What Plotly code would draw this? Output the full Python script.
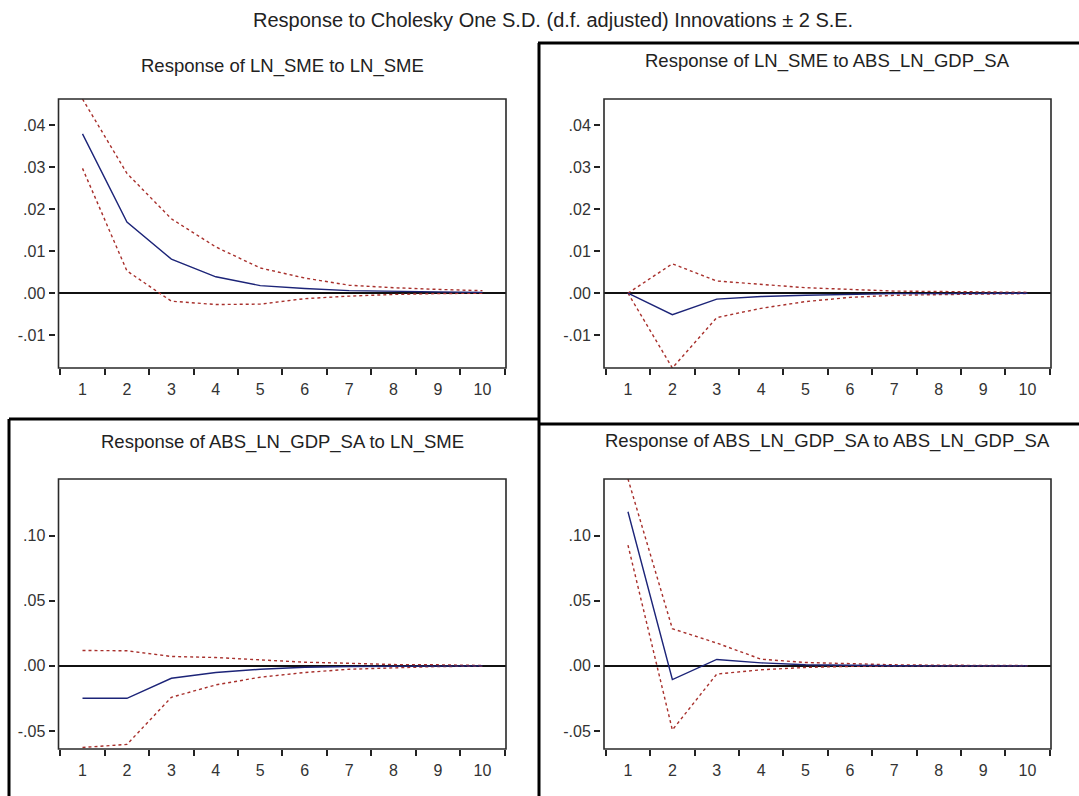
import plotly.graph_objects as go

W, H = 1079, 796

periods = list(range(1, 11))

# Panel 1: Response of LN_SME to LN_SME
p1_resp  = [0.0379, 0.0169, 0.0081, 0.0039, 0.0018, 0.0011, 0.0006, 0.0004, 0.0003, 0.0002]
p1_upper = [0.0462, 0.0285, 0.0177, 0.0110, 0.0060, 0.0036, 0.0019, 0.0013, 0.0009, 0.0006]
p1_lower = [0.0297, 0.0053, -0.0019, -0.0027, -0.0026, -0.0013, -0.0007, -0.0003, -0.0001, 0.0000]

# Panel 2: Response of LN_SME to ABS_LN_GDP_SA
p2_resp  = [0.0, -0.0051, -0.0014, -0.0008, -0.0005, -0.0003, -0.0001, -0.0001, 0.0, 0.0]
p2_upper = [0.0, 0.0070, 0.0029, 0.0021, 0.0013, 0.0009, 0.0005, 0.0004, 0.0003, 0.0002]
p2_lower = [0.0, -0.0178, -0.0058, -0.0036, -0.0020, -0.0010, -0.0005, -0.0003, -0.0002, -0.0001]

# Panel 3: Response of ABS_LN_GDP_SA to LN_SME
p3_resp  = [-0.0249, -0.0249, -0.0095, -0.0051, -0.0026, -0.0011, -0.0005, -0.0003, -0.0001, 0.0]
p3_upper = [0.0118, 0.0116, 0.0072, 0.0064, 0.0046, 0.0028, 0.0020, 0.0010, 0.0008, 0.0003]
p3_lower = [-0.0626, -0.0603, -0.0241, -0.0146, -0.0087, -0.0051, -0.0026, -0.0013, -0.0005, -0.0003]

# Panel 4: Response of ABS_LN_GDP_SA to ABS_LN_GDP_SA
p4_resp  = [0.1183, -0.0105, 0.0049, 0.0023, 0.0008, 0.0003, 0.0001, 0.0, 0.0, 0.0]
p4_upper = [0.1435, 0.0285, 0.0175, 0.0051, 0.0026, 0.0015, 0.0008, 0.0005, 0.0003, 0.0002]
p4_lower = [0.0927, -0.0492, -0.0063, -0.0030, -0.0012, -0.0004, -0.0002, -0.0001, 0.0, 0.0]

titles = [
    "Response of LN_SME to LN_SME",
    "Response of LN_SME to ABS_LN_GDP_SA",
    "Response of ABS_LN_GDP_SA to LN_SME",
    "Response of ABS_LN_GDP_SA to ABS_LN_GDP_SA",
]
main_title = "Response to Cholesky One S.D. (d.f. adjusted) Innovations \u00b1 2 S.E."

top_ticks = [-0.01, 0.0, 0.01, 0.02, 0.03, 0.04]
top_ticktext = ["-.01", ".00", ".01", ".02", ".03", ".04"]
bot_ticks = [-0.05, 0.0, 0.05, 0.10]
bot_ticktext = ["-.05", ".00", ".05", ".10"]

top_range = [-0.0178, 0.0462]
bot_range = [-0.0638, 0.1434]

panels = [
    (p1_resp, p1_upper, p1_lower, top_ticks, top_ticktext, top_range),
    (p2_resp, p2_upper, p2_lower, top_ticks, top_ticktext, top_range),
    (p3_resp, p3_upper, p3_lower, bot_ticks, bot_ticktext, bot_range),
    (p4_resp, p4_upper, p4_lower, bot_ticks, bot_ticktext, bot_range),
]

# pixel boxes (left, right, top, bottom)
boxes = [
    (58.5, 506, 99, 368),
    (604, 1051, 99, 368),
    (58.5, 506, 479, 749),
    (604, 1051, 479, 749),
]
title_y = [66, 61, 442, 441]

FONT = "Liberation Sans, Arial, sans-serif"
BLUE = "#1c2478"
RED = "#a8302c"

fig = go.Figure()
layout = dict(
    width=W, height=H,
    margin=dict(l=0, r=0, t=0, b=0),
    paper_bgcolor="white", plot_bgcolor="white",
    showlegend=False,
    font=dict(family=FONT, color="#222222"),
)
shapes = []
annotations = []

for i, (resp, up, lo, tv, tt, yr) in enumerate(panels):
    n = i + 1
    xa = "x" if n == 1 else f"x{n}"
    ya = "y" if n == 1 else f"y{n}"
    l, r, t, b = boxes[i]
    xdom = [l / W, r / W]
    ydom = [1 - b / H, 1 - t / H]
    for series, color, dash in ((up, RED, "3px,3px"), (lo, RED, "3px,3px"), (resp, BLUE, "solid")):
        fig.add_trace(go.Scatter(
            x=periods, y=series, xaxis=xa, yaxis=ya, mode="lines",
            line=dict(color=color, width=1.4, dash=dash),
            hoverinfo="skip", cliponaxis=True,
        ))
    xkey = "xaxis" if n == 1 else f"xaxis{n}"
    ykey = "yaxis" if n == 1 else f"yaxis{n}"
    layout[xkey] = dict(
        domain=xdom, anchor=ya, range=[0.46, 10.53],
        tickvals=periods, ticktext=[str(p) for p in periods],
        ticks="outside", ticklen=7, tickcolor="rgba(0,0,0,0)",
        tickfont=dict(size=16, family=FONT, color="#333333"),
        showgrid=False, zeroline=False, showline=False,
        minor=dict(tickvals=[k + 0.5 for k in range(0, 11)], ticks="outside",
                   ticklen=6, tickcolor="#222222", tickwidth=1.5),
        fixedrange=True,
    )
    layout[ykey] = dict(
        domain=ydom, anchor="free", position=(l - 4) / W, range=yr,
        tickvals=tv, ticktext=tt,
        ticks="outside", ticklen=6, tickcolor="#222222", tickwidth=1.5,
        tickfont=dict(size=16, family=FONT, color="#333333"),
        showgrid=False, showline=False,
        zeroline=True, zerolinecolor="#111111", zerolinewidth=1.6,
        fixedrange=True,
    )
    # plot box
    shapes.append(dict(type="rect", xref="paper", yref="paper",
                       x0=l / W, x1=r / W, y0=1 - b / H, y1=1 - t / H,
                       line=dict(color="#2a2a2a", width=1.6), fillcolor="rgba(0,0,0,0)",
                       layer="above"))
    annotations.append(dict(
        text=titles[i], xref="paper", yref="paper",
        x=(l + r) / 2 / W, y=1 - title_y[i] / H,
        xanchor="center", yanchor="middle", showarrow=False,
        font=dict(size=18.5, family=FONT, color="#222222"),
    ))

annotations.append(dict(
    text=main_title, xref="paper", yref="paper",
    x=553 / W, y=1 - 20 / H, xanchor="center", yanchor="middle", showarrow=False,
    font=dict(size=20, family=FONT, color="#222222"),
))

# thick frame lines
def pline(x0, y0, x1, y1):
    return dict(type="line", xref="paper", yref="paper",
                x0=x0 / W, y0=1 - y0 / H, x1=x1 / W, y1=1 - y1 / H,
                line=dict(color="black", width=3), layer="above")

shapes += [
    pline(538, 43, 1079, 43),
    pline(539, 43, 539, 796),
    pline(539, 424, 1079, 424),
    pline(9, 419, 539, 419),
    pline(9, 419, 9, 796),
]

layout["shapes"] = shapes
layout["annotations"] = annotations
fig.update_layout(**layout)

fig.write_html("out.html")
